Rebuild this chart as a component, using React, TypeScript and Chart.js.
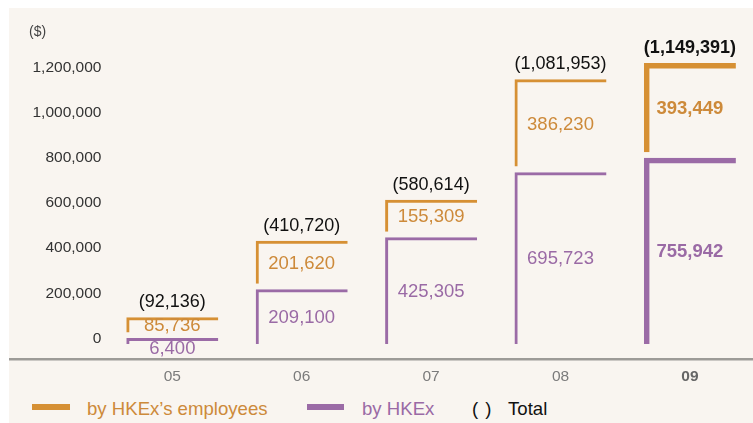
import React, { useEffect, useRef } from 'react';
import { Chart, registerables } from 'chart.js';

Chart.register(...registerables);

// ---- data ----
const CATEGORIES = ['05', '06', '07', '08', '09'];
const BY_HKEX = [6400, 209100, 425305, 695723, 755942];
const BY_EMPLOYEES = [85736, 201620, 155309, 386230, 393449];
const TOTALS = [92136, 410720, 580614, 1081953, 1149391];
const Y_TICKS = [0, 200000, 400000, 600000, 800000, 1000000, 1200000];

// ---- style ----
const FONT = "'Liberation Sans', Arial, Helvetica, sans-serif";
const BG = '#F9F5F0';
const ORANGE = '#D69034';
const ORANGE_TEXT = '#CD8A3A';
const PURPLE = '#9B6BA6';
const PURPLE_TEXT = '#9A6AA5';
const BAR_BASE = -18700; // baseline the purple brackets start from
const ORANGE_GAP = 23000; // visual gap between the two brackets
const LAST = CATEGORIES.length - 1;

const fmt = (v: number) => v.toLocaleString('en-US');
const lineW = (i: number) => (i === LAST ? 5.5 : 3);

const labelPlugin = {
  id: 'bracketLabels',
  afterDatasetsDraw(chart: any) {
    const ctx = chart.ctx;
    const pMeta = chart.getDatasetMeta(0);
    const oMeta = chart.getDatasetMeta(1);
    ctx.save();
    ctx.textAlign = 'center';
    ctx.textBaseline = 'middle';
    CATEGORIES.forEach((_, i) => {
      const bold = i === LAST;
      const f = (size: number) => `${bold ? 'bold ' : ''}${size}px ${FONT}`;
      const p = pMeta.data[i];
      const o = oMeta.data[i];
      ctx.font = f(18.5);
      ctx.fillStyle = PURPLE_TEXT;
      const ph = p.base - p.y;
      const py = ph < 24 ? p.y + 11 : (p.y + p.base) / 2 + 1;
      ctx.fillText(fmt(BY_HKEX[i]), p.x, py);
      ctx.fillStyle = ORANGE_TEXT;
      ctx.fillText(fmt(BY_EMPLOYEES[i]), o.x, (o.y + o.base) / 2 + 1.5);
      ctx.font = f(18);
      ctx.fillStyle = '#111111';
      ctx.fillText(`(${fmt(TOTALS[i])})`, o.x, o.y - 15);
    });
    ctx.restore();
  },
};

export default function App() {
  const ref = useRef<HTMLCanvasElement | null>(null);

  useEffect(() => {
    if (!ref.current) return;
    const bracketBorder = (ctx: any) => {
      const w = lineW(ctx.dataIndex);
      return { top: w, left: w, right: 0, bottom: 0 };
    };
    const chart = new Chart(ref.current, {
      type: 'bar',
      data: {
        datasets: [
          {
            label: 'by HKEx',
            data: CATEGORIES.map((_, i) => ({ x: i, y: BY_HKEX[i] })) as any,
            base: BAR_BASE,
            backgroundColor: 'rgba(0,0,0,0)',
            borderColor: PURPLE,
            borderWidth: bracketBorder as any,
            borderSkipped: false,
            inflateAmount: 0,
            barThickness: 92,
            grouped: false,
            xAxisID: 'x',
            yAxisID: 'y',
          } as any,
          {
            label: 'by HKEx\u2019s employees',
            data: CATEGORIES.map((_, i) => ({ x: i, y: [BY_HKEX[i] + ORANGE_GAP, TOTALS[i]] })) as any,
            backgroundColor: 'rgba(0,0,0,0)',
            borderColor: ORANGE,
            borderWidth: bracketBorder as any,
            borderSkipped: false,
            inflateAmount: 0,
            barThickness: 92,
            grouped: false,
            xAxisID: 'x',
            yAxisID: 'y',
          } as any,
        ],
      },
      options: {
        animation: false,
        responsive: false,
        devicePixelRatio: 1,
        layout: { padding: 0 },
        plugins: {
          legend: { display: false },
          tooltip: { enabled: false },
        },
        scales: {
          x: {
            type: 'linear',
            position: 'bottom',
            offset: false,
            min: -1.262,
            max: 4.4876,
            afterBuildTicks: (s: any) => {
              s.ticks = CATEGORIES.map((_, i) => ({ value: i }));
            },
            afterFit: (s: any) => {
              s.height = 36;
              s.paddingLeft = 0;
              s.paddingRight = 0;
            },
            ticks: {
              autoSkip: false,
              maxRotation: 0,
              padding: 8,
              callback: (v: any) => CATEGORIES[Number(v)] ?? '',
              font: (c: any) => ({ family: FONT, size: 15.5, weight: c.index === LAST ? 'bold' : 'normal' }),
              color: (c: any) => (c.index === LAST ? '#666666' : '#7b7b7b'),
            },
            grid: { display: false, drawTicks: false, offset: false },
            border: { display: true, color: '#9d9b97', width: 2.5 },
          } as any,
          y: {
            type: 'linear',
            display: false,
            min: -81068,
            max: 1378150,
          },
          yt: {
            type: 'linear',
            position: 'left',
            min: -90233,
            max: 1462314,
            afterBuildTicks: (s: any) => {
              s.ticks = Y_TICKS.map((v) => ({ value: v }));
            },
            afterFit: (s: any) => {
              s.width = 0;
              s.paddingTop = 0;
              s.paddingBottom = 0;
            },
            ticks: {
              mirror: true,
              crossAlign: 'far',
              padding: 23.5,
              color: '#333333',
              font: { family: FONT, size: 15.5 },
              callback: (v: any) => fmt(Number(v)),
            },
            grid: { display: false, drawTicks: false },
            border: { display: false },
          } as any,
        },
      },
      plugins: [labelPlugin],
    });
    return () => chart.destroy();
  }, []);

  const legendText = {
    position: 'absolute' as const,
    top: 390,
    fontSize: 18.6,
    lineHeight: '22px',
    whiteSpace: 'pre' as const,
  };

  return (
    <div
      style={{
        position: 'fixed',
        left: 9,
        top: 8,
        width: 744,
        height: 415,
        background: BG,
        fontFamily: FONT,
        overflow: 'hidden',
      }}
    >
      <canvas ref={ref} width={744} height={387} style={{ position: 'absolute', left: 0, top: 0, width: 744, height: 387 }} />
      <div style={{ position: 'absolute', left: 20, top: 15, fontSize: 14, lineHeight: '16px', color: '#444444' }}>($)</div>
      <div style={{ position: 'absolute', left: 23, top: 396, width: 38, height: 6, background: ORANGE }} />
      <div style={{ ...legendText, left: 78, color: ORANGE_TEXT }}>by HKEx{'\u2019'}s employees</div>
      <div style={{ position: 'absolute', left: 298, top: 396, width: 37, height: 6, background: PURPLE }} />
      <div style={{ ...legendText, left: 353, color: PURPLE_TEXT }}>by HKEx</div>
      <div style={{ ...legendText, left: 463, color: '#111111', wordSpacing: 2 }}>( )</div>
      <div style={{ ...legendText, left: 499, color: '#111111' }}>Total</div>
    </div>
  );
}
